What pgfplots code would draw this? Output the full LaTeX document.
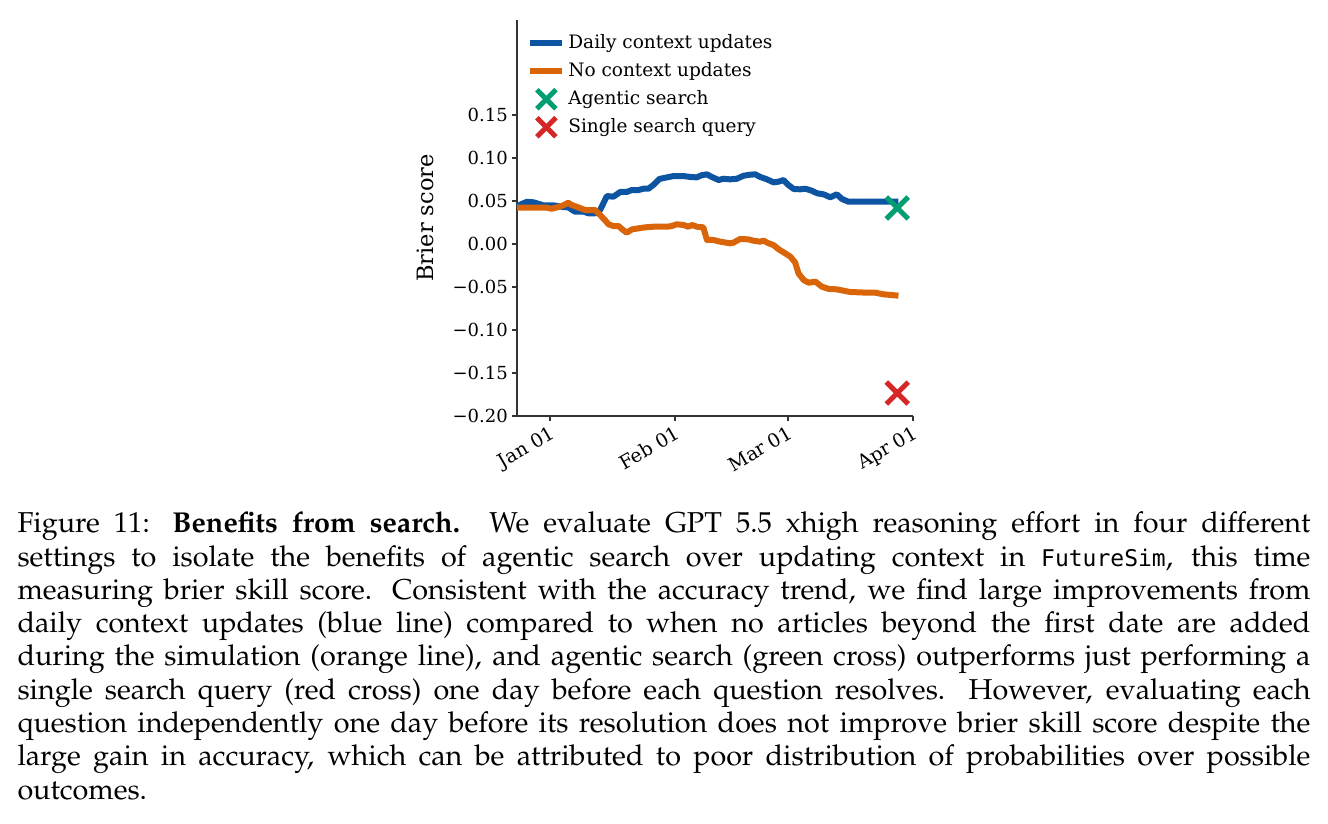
\documentclass[border=0pt]{standalone}
\usepackage{fontspec}
\usepackage[T1]{fontenc}
\usepackage{mathpazo}
\usepackage{pgfplots}
\pgfplotsset{compat=1.18}
\newfontfamily\chartfont{DejaVu Serif}
\newfontfamily\captmono{DejaVu Sans Mono}[Scale=0.8]

\definecolor{dailyblue}{HTML}{0D55A3}
\definecolor{noorange}{HTML}{DA6408}
\definecolor{agentgreen}{HTML}{029E73}
\definecolor{singlered}{HTML}{D62728}

\newcommand{\chartsize}{\chartfont\fontsize{7.2}{8.6}\selectfont}

\pgfplotsset{
  shortline legend/.style={legend image code/.code={\draw[##1] (0pt,0pt) -- (12.8pt,0pt);}},
  cross legend/.style={legend image code/.code={%
    \draw[mark repeat=2,mark phase=2,mark size=5.4pt,##1] plot coordinates {(0pt,0pt) (6.4pt,0pt) (12.8pt,0pt)};
    \pgfresetboundingbox
    \pgfpathrectangle{\pgfpoint{0pt}{-3pt}}{\pgfpoint{12.8pt}{6pt}}%
    \pgfusepath{use as bounding box}}},
}

\begin{document}
\begin{tikzpicture}
\fill[white] (0pt,0pt) rectangle (531.2pt,329.6pt);
\begin{axis}[
  at={(206.8pt,163.2pt)}, anchor=south west,
  scale only axis, width=158.4pt, height=158.4pt,
  xmin=-8.2, xmax=90,
  ymin=-0.20, ymax=0.2605,
  axis lines=left,
  axis line style={-, black!80, line width=0.6pt},
  tick style={black!80, line width=0.6pt},
  tick align=outside, major tick length=2pt,
  xtick={0,31,59,90},
  xticklabels={Jan 01, Feb 01, Mar 01, Apr 01},
  x tick label style={rotate=30, anchor=north east, font=\chartfont\fontsize{7.6}{9}\selectfont, inner sep=1pt},
  ytick={-0.20,-0.15,-0.10,-0.05,0,0.05,0.10,0.15},
  yticklabels={−0.20,−0.15,−0.10,−0.05,0.00,0.05,0.10,0.15},
  y tick label style={font=\chartsize, inner sep=1.5pt},
  ylabel={Brier score},
  ylabel style={font=\chartfont\fontsize{9}{10.8}\selectfont, at={(axis description cs:-0.232,0.5)}, anchor=center},
  clip=false,
  legend style={at={(axis description cs:0.025,0.978)}, anchor=north west,
    draw=none, fill=none, font=\chartfont\fontsize{7.4}{8.8}\selectfont, row sep=0pt,
    inner sep=0pt,
    nodes={inner xsep=1.2pt, inner ysep=1.7pt, text height=6pt, text depth=1.8pt}},
  legend cell align=left,
]
% Daily context updates
\addplot[dailyblue, line width=2.4pt, line join=round, shortline legend] coordinates {
(-8.2,0.044) (-5.8,0.049) (-4.1,0.0485) (-1.7,0.045) (0.8,0.045)
(3.3,0.043) (4.5,0.0426) (6.2,0.0376) (8.3,0.0376) (9.5,0.0357)
(11.2,0.0357) (12.4,0.0395) (14.1,0.0558) (15.7,0.055) (17.4,0.0605)
(19.0,0.0605) (20.3,0.0628) (21.9,0.0628) (23.2,0.0643) (24.4,0.0643)
(25.6,0.0686) (27.1,0.0756) (29.0,0.0775) (30.6,0.079) (33.1,0.079)
(34.7,0.078) (36.4,0.0775) (37.6,0.080) (38.9,0.081) (40.1,0.078)
(41.8,0.0744) (43.0,0.0759) (44.7,0.0752) (46.3,0.0759) (48.0,0.0794)
(49.6,0.0806) (50.9,0.081) (52.1,0.078) (53.8,0.0752) (55.4,0.0717)
(56.7,0.0725) (57.9,0.0744) (59.1,0.0686) (60.4,0.064) (62.0,0.0636)
(63.3,0.0643) (64.9,0.062) (66.2,0.059) (67.8,0.0578) (69.5,0.0543)
(71.1,0.0578) (72.4,0.0523) (74.0,0.0492) (86.4,0.0492)
};
\addlegendentry{Daily context updates}
% No context updates
\addplot[noorange, line width=2.4pt, line join=round, shortline legend] coordinates {
(-8.2,0.0422) (-4.1,0.0422) (-0.8,0.0422) (0.4,0.041) (1.7,0.0426)
(3.3,0.045) (4.5,0.048) (5.4,0.0453) (7.0,0.0426) (8.7,0.0395)
(11.2,0.0395) (12.4,0.0337) (13.6,0.0279) (14.5,0.0229) (15.7,0.0209)
(17.0,0.0209) (17.8,0.0174) (19.0,0.0132) (20.3,0.017) (21.9,0.0182)
(23.6,0.0194) (25.6,0.0201) (29.0,0.0201) (30.2,0.0209) (31.4,0.0229)
(33.1,0.0221) (34.3,0.0201) (35.2,0.0221) (36.4,0.0201) (38.0,0.0194)
(38.9,0.0047) (40.5,0.0047) (42.2,0.0027) (44.7,0.0008) (45.5,0.0016)
(47.1,0.0058) (49.2,0.0054) (50.4,0.0039) (52.1,0.0027) (52.9,0.0039)
(54.2,0.0008) (55.4,-0.0012) (56.7,-0.0062) (58.3,-0.0108) (59.6,-0.0147)
(60.8,-0.0217) (61.6,-0.0341) (62.9,-0.0419) (64.1,-0.045) (65.8,-0.0438)
(67.4,-0.0496) (69.1,-0.0523) (71.1,-0.0527) (72.8,-0.0543) (74.4,-0.0558)
(76.5,-0.0562) (78.6,-0.0566) (80.6,-0.0566) (82.7,-0.0585) (86.4,-0.0601)
};
\addlegendentry{No context updates}
% Agentic search
\addplot[agentgreen, only marks, mark=x, mark size=6.2pt, mark options={line width=2pt}, cross legend]
  coordinates {(86.1,0.0419)};
\addlegendentry{Agentic search}
% Single search query
\addplot[singlered, only marks, mark=x, mark size=6.2pt, mark options={line width=2pt}, cross legend]
  coordinates {(86.1,-0.1733)};
\addlegendentry{Single search query}
\end{axis}
\node[anchor=north west, inner sep=0pt, text width=517.2pt, align=justify,
  font=\fontsize{11.5}{13.32}\selectfont] at (6.8pt,125pt) {%
Figure 11: \textbf{Benefits from search.} We evaluate GPT 5.5 xhigh reasoning effort in four different\linebreak
settings to isolate the benefits of agentic search over updating context in {\captmono FutureSim}, this time\linebreak
measuring brier skill score. Consistent with the accuracy trend, we find large improvements from\linebreak
daily context updates (blue line) compared to when no articles beyond the first date are added\linebreak
during the simulation (orange line), and agentic search (green cross) outperforms just performing a\linebreak
single search query (red cross) one day before each question resolves. However, evaluating each\linebreak
question independently one day before its resolution does not improve brier skill score despite the\linebreak
large gain in accuracy, which can be attributed to poor distribution of probabilities over possible\linebreak
outcomes.};
\pgfresetboundingbox
\useasboundingbox (0pt,0pt) rectangle (531.2pt,329.6pt);
\end{tikzpicture}
\end{document}
